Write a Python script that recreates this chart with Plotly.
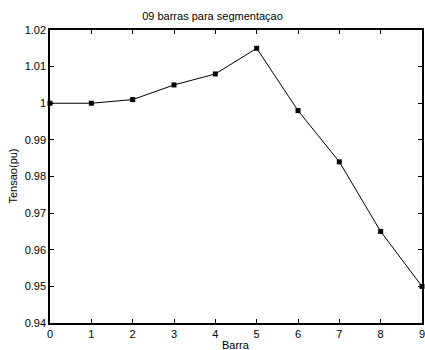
import plotly.graph_objects as go

# Bus voltage profile
barra = [0, 1, 2, 3, 4, 5, 6, 7, 8, 9]
tensao = [1.000, 1.000, 1.001, 1.005, 1.008, 1.015, 0.998, 0.984, 0.965, 0.950]

x_ticks = [0, 1, 2, 3, 4, 5, 6, 7, 8, 9]
y_ticks = [0.94, 0.95, 0.96, 0.97, 0.98, 0.99, 1.00, 1.01, 1.02]
y_labels = ["0.94", "0.95", "0.96", "0.97", "0.98", "0.99", "1", "1.01", "1.02"]

FONT = "Liberation Sans, Arial, sans-serif"

fig = go.Figure()
fig.add_trace(go.Scatter(
    x=barra, y=tensao, mode="lines+markers",
    line=dict(color="black", width=1),
    marker=dict(symbol="square", size=5, color="black"),
    cliponaxis=False, showlegend=False,
))

axis_common = dict(
    showgrid=False, zeroline=False, showline=True, linecolor="black",
    linewidth=1.5, mirror="ticks", ticks="inside", ticklen=4,
    tickcolor="black", tickwidth=1, automargin=False,
    ticklabeloverflow="allow",
    tickfont=dict(family=FONT, size=11, color="black"),
)

fig.update_layout(
    width=425, height=350,
    margin=dict(l=50, r=3, t=30, b=27, autoexpand=False),
    paper_bgcolor="white", plot_bgcolor="white",
    font=dict(family=FONT, size=11, color="black"),
    title=dict(text="09 barras para segmentaçao", x=0.5, xanchor="center",
               y=1 - 16 / 350, yanchor="middle",
               font=dict(family=FONT, size=11, color="black")),
    xaxis=dict(range=[0, 9], tickvals=x_ticks, **axis_common),
    yaxis=dict(range=[0.94, 1.02], tickvals=y_ticks, ticktext=y_labels,
               **axis_common),
    annotations=[
        dict(text="Barra", xref="paper", yref="paper", x=0.5, y=0,
             xanchor="center", yanchor="top", yshift=-14, showarrow=False,
             font=dict(family=FONT, size=11, color="black")),
        dict(text="Tensao(pu)", xref="paper", yref="paper", x=0, y=0.5,
             xanchor="center", yanchor="middle", xshift=-38, textangle=-90,
             showarrow=False, font=dict(family=FONT, size=11, color="black")),
    ],
)

fig.write_html("out.html")
